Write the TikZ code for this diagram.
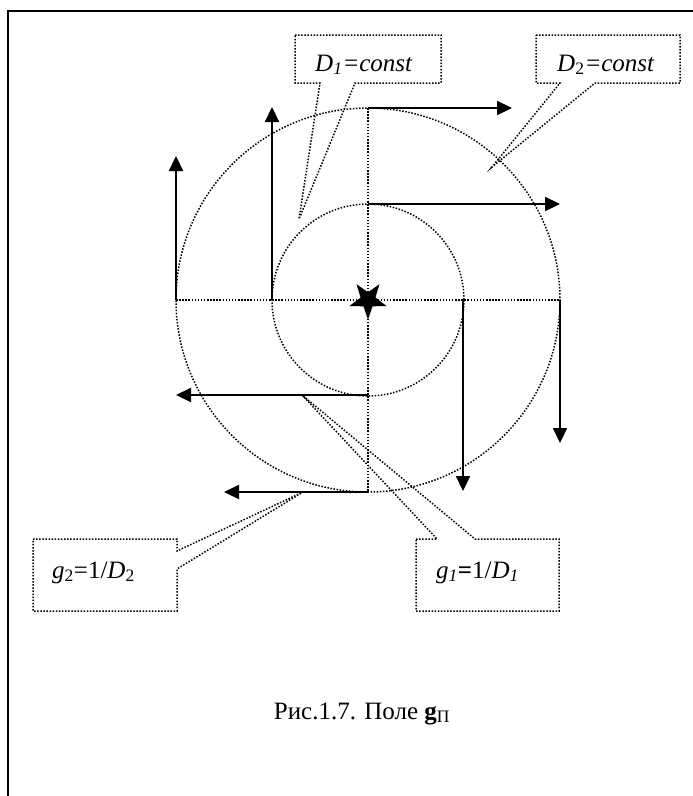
\documentclass[tikz,border=0pt]{standalone}
\usepackage{fontspec}
\setmainfont{Liberation Serif}
\usetikzlibrary{arrows.meta}
\begin{document}
\begin{tikzpicture}[x=1pt,y=-1pt,
  dotline/.style={line width=1.5pt, dash pattern=on 1.5pt off 1.6pt},
  vec/.style={line width=2.2pt, -{Triangle[length=15pt,width=14pt]}},
  lbl/.style={font=\fontsize{25}{29}\selectfont, anchor=base west, inner sep=0pt},
  frameline/.style={line width=2.2pt}]
\useasboundingbox (0,0) rectangle (693,796);
\draw[frameline] (8,796) -- (8,11) -- (693,11);
% centre
\coordinate (O) at (368,300);
% circles and cross
\draw[dotline] (O) circle[radius=96];
\draw[dotline] (O) circle[radius=192];
\draw[dotline] (176,300) -- (560,300);
\draw[dotline] (368,108) -- (368,492);
% star
\begin{scope}[shift={(368,300)}]
\fill (90:19.5) -- (126:7.8) -- (162:19.5) -- (198:7.8) -- (234:19.5) -- (270:7.8)
  -- (306:19.5) -- (342:7.8) -- (18:19.5) -- (54:7.8) -- cycle;
\end{scope}
% arrows
\coordinate (t2) at (368,108); \coordinate (t2e) at (512,108);
\coordinate (t1) at (368,204); \coordinate (t1e) at (560,204);
\coordinate (l2) at (176,300); \coordinate (l2e) at (176,156);
\coordinate (l1) at (272,300); \coordinate (l1e) at (272,107);
\coordinate (r1) at (463,300); \coordinate (r1e) at (463,491);
\coordinate (r2) at (560,300); \coordinate (r2e) at (560,443);
\coordinate (b1) at (368,395); \coordinate (b1e) at (176,395);
\coordinate (b2) at (368,492); \coordinate (b2e) at (224,492);
\foreach \s/\e in {t2/t2e,t1/t1e,l2/l2e,l1/l1e,r1/r1e,r2/r2e,b1/b1e,b2/b2e}
  \draw[vec] (\s) -- (\e);
% callouts
\draw[dotline] (295,35) -- (441,35) -- (441,83) -- (355,83) -- (299,219) -- (320,83) -- (295,83) -- cycle;
\draw[dotline] (536,35) -- (680,35) -- (680,83) -- (595,83) -- (492,167) -- (560,83) -- (536,83) -- cycle;
\draw[dotline] (416,539) -- (437,539) -- (302,395) -- (475,539) -- (559,539) -- (559,611) -- (416,611) -- cycle;
\draw[dotline] (33,539) -- (177,539) -- (177,551) -- (303,492) -- (177,569) -- (177,611) -- (33,611) -- cycle;
\node[lbl] (d1) at (315,71) {\textit{D}\textsubscript{\textit{1}}\textit{=const}};
\node[lbl] (d2) at (557,71) {\textit{D}\textsubscript{2}\textit{=const}};
\node[lbl] (g1) at (436,578) {\textit{g}\textsubscript{\textit{1}}\textbf{=}1/\textit{D}\textsubscript{\textit{1}}};
\node[lbl] (g2) at (52,578) {\textit{g}\textsubscript{2}=1/\textit{D}\textsubscript{2}};
\node[lbl, anchor=base] (cap) at (362,719) {Рис.1.7. Поле \textbf{g}\textsubscript{П}};
\end{tikzpicture}
\end{document}
